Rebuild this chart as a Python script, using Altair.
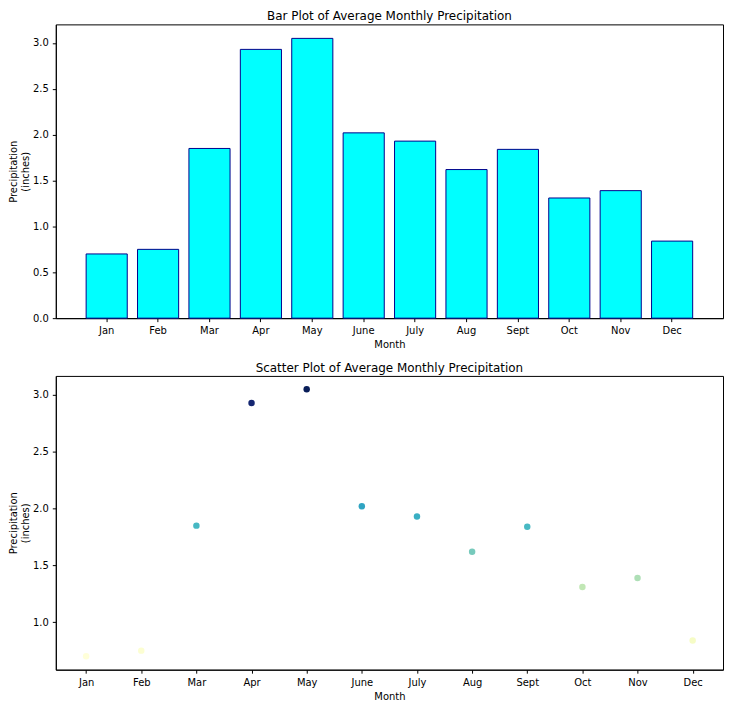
import altair as alt
import pandas as pd

months = ["Jan", "Feb", "Mar", "Apr", "May", "June", "July", "Aug", "Sept", "Oct", "Nov", "Dec"]
precip = [0.70, 0.75, 1.85, 2.93, 3.05, 2.02, 1.93, 1.62, 1.84, 1.31, 1.39, 0.84]
bar_ticks = [0.0, 0.5, 1.0, 1.5, 2.0, 2.5, 3.0]
scatter_ticks = [1.0, 1.5, 2.0, 2.5, 3.0]

# matplotlib's YlGnBu colormap stops
ylgnbu = ["#ffffd9", "#edf8b1", "#c7e9b4", "#7fcdbb", "#41b6c4",
          "#1d91c0", "#225ea8", "#253494", "#081d58"]

df = pd.DataFrame({"Month": months, "Precip": precip})

W, H = 670, 295
FONT = "DejaVu Sans"
ytitle = ["Precipitation", "(inches)"]

lo, hi = min(precip), max(precip)
m = 0.05 * (hi - lo)

bar = alt.Chart(df, title=alt.Title("Bar Plot of Average Monthly Precipitation")).mark_bar(
    color="#00FFFF", stroke="#00008B", strokeWidth=1
).encode(
    x=alt.X("Month:N", sort=months,
            scale=alt.Scale(paddingInner=0.2, paddingOuter=0.59),
            axis=alt.Axis(title="Month", labelAngle=0)),
    y=alt.Y("Precip:Q", scale=alt.Scale(domain=[0, hi * 1.05], nice=False, zero=True),
            axis=alt.Axis(title=ytitle, values=bar_ticks, format=".1f")),
).properties(width=W, height=H)

scatter = alt.Chart(df, title=alt.Title("Scatter Plot of Average Monthly Precipitation")).mark_circle(
    size=42, opacity=1
).encode(
    x=alt.X("Month:N", sort=months,
            scale=alt.Scale(type="point", padding=0.55),
            axis=alt.Axis(title="Month", labelAngle=0)),
    y=alt.Y("Precip:Q", scale=alt.Scale(domain=[lo - m, hi + m], nice=False, zero=False),
            axis=alt.Axis(title=ytitle, values=scatter_ticks, format=".1f")),
    color=alt.Color("Precip:Q", scale=alt.Scale(range=ylgnbu, domain=[lo, hi], interpolate="rgb"),
                    legend=None),
).properties(width=W, height=H)

chart = alt.vconcat(bar, scatter, spacing=11).properties(
    padding={"left": 0, "top": 0, "right": 0, "bottom": 0}
).configure_view(
    stroke="black", strokeWidth=1
).configure_axis(
    grid=False,
    labelFont=FONT, titleFont=FONT,
    labelFontSize=10, titleFontSize=10,
    labelColor="black", titleColor="black",
    titleFontWeight="normal",
    tickColor="black", domainColor="black",
    tickSize=3.5, labelPadding=4, titlePadding=4,
).configure_axisY(
    titlePadding=2
).configure_title(
    font=FONT, fontSize=12, fontWeight="normal", color="black", anchor="middle", offset=1
)

chart.save("out.html", embed_options={"renderer": "svg", "actions": False})
